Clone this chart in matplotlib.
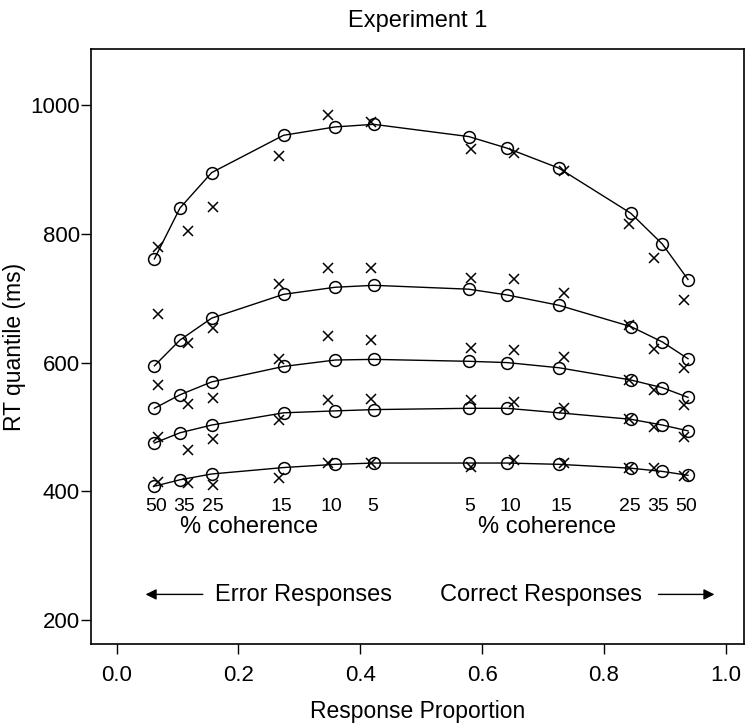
import numpy as np
import matplotlib.pyplot as plt

plt.rcParams['font.family'] = ['Liberation Sans', 'DejaVu Sans']

# --- response proportions (x) ---
# predicted (circles) and observed (crosses); error side then correct side
err_x_pred = [0.062, 0.104, 0.156, 0.274, 0.359, 0.422]
cor_x_pred = [0.578, 0.641, 0.726, 0.844, 0.896, 0.938]
err_x_obs = [0.068, 0.117, 0.159, 0.266, 0.347, 0.418]
cor_x_obs = [0.582, 0.653, 0.734, 0.841, 0.883, 0.932]

err_coh = ['50', '35', '25', '15', '10', '5']
cor_coh = ['5', '10', '15', '25', '35', '50']

# --- RT quantiles (ms), top row = .9 quantile down to .1 ---
pred_err = [
    [761, 840, 895, 953, 966, 970],
    [595, 635, 669, 706, 717, 720],
    [529, 550, 570, 594, 604, 605],
    [475, 491, 503, 522, 525, 527],
    [408, 418, 427, 437, 442, 444],
]
pred_cor = [
    [951, 933, 902, 832, 784, 729],
    [714, 705, 689, 656, 632, 606],
    [602, 600, 592, 573, 561, 546],
    [529, 529, 522, 512, 503, 494],
    [444, 444, 442, 436, 431, 425],
]
obs_err = [
    [780, 804, 841, 921, 985, 974],
    [676, 630, 653, 722, 747, 747],
    [565, 535, 545, 605, 641, 635],
    [485, 465, 482, 511, 542, 543],
    [415, 413, 410, 420, 444, 444],
]
obs_cor = [
    [931, 925, 898, 816, 763, 697],
    [731, 730, 708, 658, 621, 591],
    [622, 620, 609, 573, 557, 534],
    [542, 539, 530, 512, 500, 485],
    [438, 449, 444, 437, 436, 424],
]

fig = plt.figure(figsize=(7.48, 7.28), dpi=100)
ax = fig.add_axes([0.1217, 0.1154, 0.8730, 0.8173])

x_pred = np.array(err_x_pred + cor_x_pred)
x_obs = np.array(err_x_obs + cor_x_obs)

for pe, pc, oe, oc in zip(pred_err, pred_cor, obs_err, obs_cor):
    ax.plot(x_pred, pe + pc, color='black', lw=1.0, marker='o', ms=8.5,
            mfc='none', mec='black', mew=1.1)
    ax.plot(x_obs, oe + oc, ls='none', marker='x', ms=7.5, color='black', mew=1.1)

# coherence labels under the lowest row
coh_x = (x_pred + x_obs) / 2
for xx, lab in zip(coh_x, err_coh + cor_coh):
    ax.text(xx, 376, lab, ha='center', va='center', fontsize=14)
ax.text(0.217, 345, '% coherence', ha='center', va='center', fontsize=17)
ax.text(0.706, 345, '% coherence', ha='center', va='center', fontsize=17)

# response-type annotations with arrows
ax.text(0.307, 239, 'Error Responses', ha='center', va='center', fontsize=17)
ax.text(0.697, 239, 'Correct Responses', ha='center', va='center', fontsize=17)
arrow = dict(arrowstyle='-|>', color='black', lw=1.0, mutation_scale=16)
ax.annotate('', xy=(0.043, 240), xytext=(0.146, 240), arrowprops=arrow)
ax.annotate('', xy=(0.986, 240), xytext=(0.885, 240), arrowprops=arrow)

ax.set_xlim(-0.042, 1.03)
ax.set_ylim(163, 1087)
ax.set_xticks(np.arange(0, 1.01, 0.2))
ax.set_xticklabels(['0.0', '0.2', '0.4', '0.6', '0.8', '1.0'])
ax.set_yticks([200, 400, 600, 800, 1000])

for s in ax.spines.values():
    s.set_linewidth(1.2)
ax.tick_params(axis='both', direction='out', length=7, width=1.0, labelsize=16)
ax.tick_params(axis='y', pad=1)
ax.tick_params(axis='x', pad=8)

ax.set_xlabel('Response Proportion', fontsize=16.5, labelpad=10)
ax.set_ylabel('RT quantile (ms)', fontsize=16.5, labelpad=3)
ax.set_title('Experiment 1', fontsize=17, pad=16)

fig.savefig('out.png', dpi=100)
